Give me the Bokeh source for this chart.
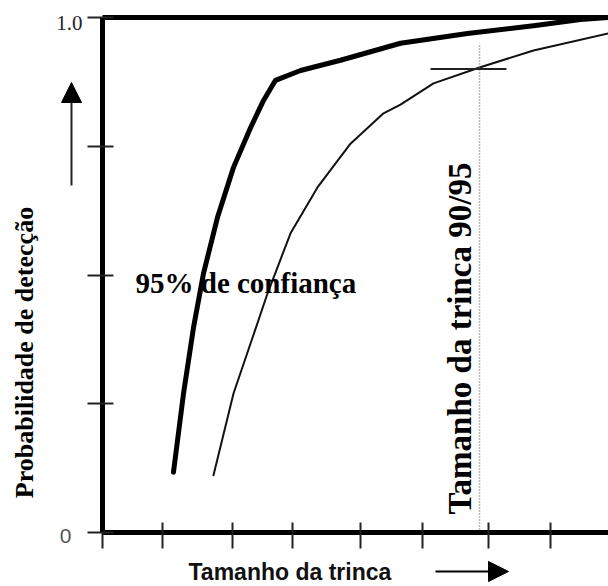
import math
from bokeh.plotting import figure
from bokeh.models import Range1d, FixedTicker, Label, Arrow, NormalHead
from bokeh.embed import file_html
from bokeh.resources import INLINE

# ---- data (crack size in arbitrary units, probability of detection) ----
pod_x = [1.109, 1.266, 1.422, 1.578, 1.797, 2.047, 2.313, 2.516, 2.703, 3.094, 3.719, 4.656, 5.703, 6.734, 7.469, 7.906]
pod_y = [0.117, 0.270, 0.398, 0.503, 0.612, 0.709, 0.786, 0.839, 0.878, 0.897, 0.917, 0.950, 0.969, 0.984, 0.996, 1.000]

conf95_x = [1.734, 2.047, 2.313, 2.578, 2.938, 3.359, 3.875, 4.391, 4.656, 5.172, 5.891, 6.734, 7.906]
conf95_y = [0.111, 0.270, 0.367, 0.464, 0.581, 0.670, 0.755, 0.814, 0.831, 0.872, 0.903, 0.936, 0.969]

a90_95 = 5.891          # crack size at 90% POD with 95% confidence
pod_90 = 0.90
x_ticks = [0, 0.9375, 2.031, 2.969, 4.031, 5.0, 6.031, 7.0]
y_ticks = [0, 0.25, 0.5, 0.75, 1.0]
y_tick_labels = {0: "0", 1.0: "1.0"}
x_max = 7.906

W, H = 608, 586
# pixel helpers (for placing annotations only)
def dx(px):
    return (px - 102) / 64.0

def dy(py):
    return (532 - py) / 515.0

p = figure(width=W, height=H, output_backend="svg", toolbar_location=None,
           min_border_left=0, min_border_right=0, min_border_top=0, min_border_bottom=0,
           x_range=Range1d(dx(0), dx(W)), y_range=Range1d(dy(H), dy(0)))
p.outline_line_color = None
p.xgrid.visible = False
p.ygrid.visible = False
p.background_fill_color = "white"
p.border_fill_color = "white"

# axes, placed at the origin inside the frame
xa = p.xaxis[0]
xa.fixed_location = 0
xa.bounds = (0, x_max)
xa.ticker = FixedTicker(ticks=x_ticks)
xa.major_label_overrides = {t: "" for t in x_ticks}
xa.major_label_text_font_size = "1px"
xa.axis_line_width = 5
xa.axis_line_color = "black"
xa.major_tick_line_width = 2
xa.major_tick_line_color = "#222222"
xa.major_tick_in = 10
xa.major_tick_out = 16
xa.minor_tick_line_color = None

ya = p.yaxis[0]
ya.fixed_location = 0
ya.bounds = (0, 1.0)
ya.ticker = FixedTicker(ticks=y_ticks)
ya.major_label_overrides = {t: "" for t in y_ticks}
ya.major_label_text_font_size = "1px"
ya.axis_line_width = 5
ya.axis_line_color = "black"
ya.major_tick_line_width = 2
ya.major_tick_line_color = "#222222"
ya.major_tick_in = 11
ya.major_tick_out = 15
ya.minor_tick_line_color = None

# top border line at POD = 1
p.line([0, x_max], [1.0, 1.0], line_color="black", line_width=5)

# curves
p.line(pod_x, pod_y, line_color="black", line_width=5, line_join="round", line_cap="round")
p.line(conf95_x, conf95_y, line_color="#111111", line_width=2, line_cap="round")

# 90/95 marker
p.line([a90_95, a90_95], [0, 0.95], line_color="#777777", line_width=1.5, line_dash="1 2")
p.line([5.125, 6.3125], [pod_90, pod_90], line_color="#222222", line_width=2)

# tick labels
p.add_layout(Label(x=dx(82), y=dy(22), text=y_tick_labels[1.0],
                   text_align="right", text_baseline="middle",
                   text_font="Liberation Serif", text_font_size="21px", text_color="#222233"))
p.add_layout(Label(x=dx(71), y=dy(535), text=y_tick_labels[0],
                   text_align="right", text_baseline="middle",
                   text_font="Liberation Sans", text_font_size="21px", text_color="#555555"))

# axis titles
p.add_layout(Label(x=dx(24), y=dy(352), text="Probabilidade de detecção", angle=math.pi / 2,
                   text_align="center", text_baseline="middle",
                   text_font="Liberation Serif", text_font_style="bold", text_font_size="26px",
                   text_color="black"))
p.add_layout(Label(x=dx(188), y=dy(571), text="Tamanho da trinca",
                   text_align="left", text_baseline="middle",
                   text_font="Liberation Sans", text_font_style="bold", text_font_size="23px",
                   text_color="#111111"))

# annotations
p.add_layout(Label(x=dx(135), y=dy(282), text="95% de confiança",
                   text_align="left", text_baseline="alphabetic",
                   text_font="Liberation Serif", text_font_style="bold", text_font_size="29px",
                   text_color="black"))
p.add_layout(Label(x=dx(459.5), y=dy(338), text="Tamanho da trinca 90/95",
                   angle=math.pi / 2, text_align="center", text_baseline="middle",
                   text_font="Liberation Serif", text_font_style="bold", text_font_size="33px",
                   text_color="black"))

# arrows
p.add_layout(Arrow(end=NormalHead(size=20, fill_color="black", line_color="black"),
                   x_start=dx(435), y_start=dy(571), x_end=dx(508), y_end=dy(571),
                   line_width=2, line_color="black"))
p.add_layout(Arrow(end=NormalHead(size=20, fill_color="black", line_color="black"),
                   x_start=dx(71), y_start=dy(185), x_end=dx(71), y_end=dy(82),
                   line_width=2, line_color="#222222"))

open("out.html", "w").write(file_html(p, INLINE))
